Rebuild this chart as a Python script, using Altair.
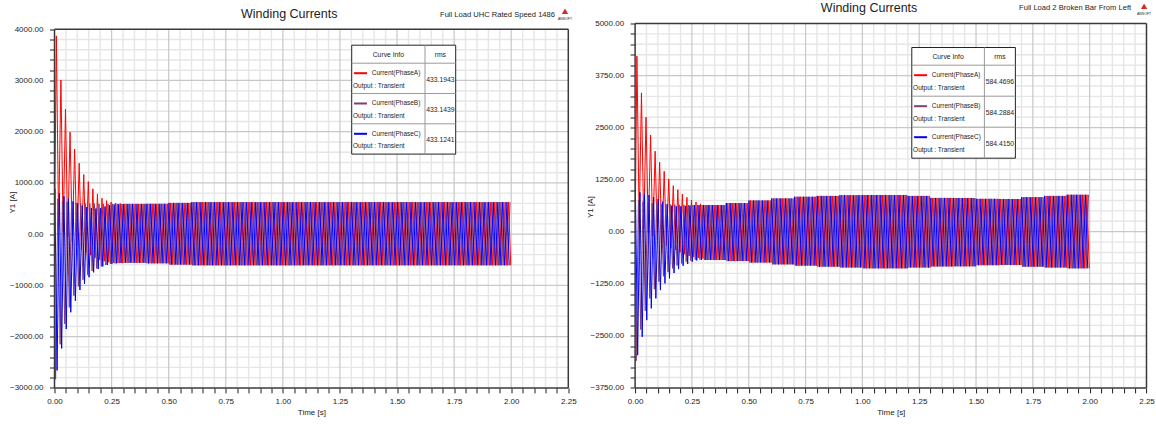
import altair as alt
import numpy as np
import pandas as pd

# ---------------------------------------------------------------- styling
FONT = "Liberation Sans, Arial, sans-serif"
INK = "#1c1c1c"
FRAME = "#3a3a3a"
GRID_MINOR = "#e6e6e6"
GRID_MAJOR = "#c8c8c8"
PLOT_H = 364.4

PHASES = ["Current(PhaseA)", "Current(PhaseB)", "Current(PhaseC)"]
PHASE_COLORS = ["#ff0000", "#7f3f6f", "#0000ff"]
OUTPUT_NAME = "Output : Transient"
CHART_TITLE = "Winding Currents"
X_TITLE = "Time [s]"
Y_TITLE = "Y1 [A]"
LOGO_TEXT = "ANSOFT"

X_MAJOR = [0.0, 0.25, 0.50, 0.75, 1.00, 1.25, 1.50, 1.75, 2.00, 2.25]
X_MINOR_STEP = 0.05

# ---------------------------------------------------------------- waveform timing
T_END = 2.0
CYCLE = 0.02
ENV_START = 0.3
ENV_STEP = 0.1
# (first positive peak, first negative peak) of each phase, seconds
FIRST_EXTREMA = {
    "Current(PhaseA)": (0.0080, 0.0180),
    "Current(PhaseB)": (0.0147, 0.0047),
    "Current(PhaseC)": (0.0013, 0.0113),
}

# ---------------------------------------------------------------- left: rated speed 1486
UHC_SUBTITLE = "Full Load UHC Rated Speed 1486"
UHC_RMS = ["433.1943", "433.1439", "433.1241"]
UHC_Y_MAJOR = [-3000, -2000, -1000, 0, 1000, 2000, 3000, 4000]
UHC_Y_MINOR_STEP = 200
# start-up extremes, one value per 20 ms cycle
UHC_A_PEAKS = [3870, 3010, 2440, 1990, 1660, 1385, 1165, 1025, 885, 785, 700, 655, 625, 605, 598]
UHC_A_TROUGHS = [150, 40, -60, -150, -230, -300, -360, -410, -460, -500, -530, -550, -560, -565, -565]
UHC_B_PEAKS = [690, 650, 630, 620, 610, 600, 600, 595, 595, 590, 590, 590, 590, 588, 588]
UHC_B_TROUGHS = [-2830, -2150, -1750, -1430, -1200, -1020, -890, -790, -720, -670, -630, -600, -580, -570, -565]
UHC_C_PEAKS = [885, 800, 740, 690, 640, 600, 560, 530, 510, 500, 510, 540, 565, 580, 585]
UHC_C_TROUGHS = [-2660, -2230, -1850, -1525, -1300, -1090, -970, -840, -745, -680, -630, -600, -580, -570, -565]
# settled envelope, one value per 0.1 s block from 0.3 s
UHC_ENV_UP = [590, 592, 610, 625, 625, 625, 625, 625, 625, 625, 625, 625, 625, 625, 625, 625, 625]
UHC_ENV_LO = [-560, -570, -595, -608, -608, -608, -608, -608, -608, -608, -608, -608, -608, -608, -608, -608, -608]

# ---------------------------------------------------------------- right: two broken bars
BB_SUBTITLE = "Full Load 2 Broken Bar From Left"
BB_RMS = ["584.4696", "584.2884", "584.4150"]
BB_Y_MAJOR = [-3750, -2500, -1250, 0, 1250, 2500, 3750, 5000]
BB_Y_MINOR_STEP = 250
BB_A_PEAKS = [4216, 3334, 2750, 2324, 1933, 1668, 1452, 1267, 1106, 1010, 906, 827, 762, 715, 670]
BB_A_TROUGHS = [200, 80, -20, -110, -190, -260, -330, -390, -440, -490, -540, -580, -610, -630, -645]
BB_B_PEAKS = [760, 720, 700, 690, 680, 670, 660, 655, 650, 645, 645, 642, 640, 640, 640]
BB_B_TROUGHS = [-3100, -2350, -1900, -1600, -1380, -1200, -1070, -970, -880, -810, -760, -720, -690, -675, -665]
BB_C_PEAKS = [985, 945, 905, 880, 825, 785, 720, 660, 625, 610, 610, 620, 630, 638, 640]
BB_C_TROUGHS = [-2964, -2524, -2123, -1841, -1601, -1401, -1241, -1121, -993, -897, -817, -776, -721, -690, -680]
BB_ENV_UP = [642, 690, 750, 800, 840, 860, 878, 882, 882, 860, 812, 810, 790, 786, 830, 860, 888]
BB_ENV_LO = [-680, -705, -740, -785, -815, -840, -860, -880, -880, -860, -835, -832, -805, -800, -840, -860, -880]


def phase_curve(phase, peaks, troughs, env_up, env_lo):
    """Piecewise path through the positive and negative extremes of one phase."""
    t_pk, t_tr = FIRST_EXTREMA[phase]
    rows = [(0.0, 0.0)]
    for t_first, start_vals, env in ((t_pk, peaks, env_up), (t_tr, troughs, env_lo)):
        k = 0
        while t_first + k * CYCLE <= T_END + 1e-9:
            t = t_first + k * CYCLE
            if k < len(start_vals):
                v = start_vals[k]
            else:
                block = int((t - ENV_START) / ENV_STEP)
                v = env[min(max(block, 0), len(env) - 1)]
            rows.append((round(t, 5), v))
            k += 1
    rows.sort()
    return pd.DataFrame({"t": [r[0] for r in rows], "i": [r[1] for r in rows], "phase": phase})


def label_expr(majors):
    arr = ",".join(repr(float(v)) for v in majors)
    return f"indexof([{arr}], datum.value) >= 0 ? format(datum.value, '.2f') : ''"


def build_panel(curves, y_major, y_minor_step, top_gap, width, rms, subtitle,
                title_xy, sub_xy, logo_xy, legend_geo, y_title_xy):
    y_lo, y_hi = float(y_major[0]), float(y_major[-1])
    dom_hi = y_hi + top_gap / (PLOT_H - top_gap) * (y_hi - y_lo)
    xs = alt.Scale(domain=[0, 2.25], nice=False, zero=False)
    ys = alt.Scale(domain=[y_lo, dom_hi], nice=False, zero=False)
    cs = alt.Scale(domain=PHASES, range=PHASE_COLORS)

    x_ticks = [round(float(v), 2) for v in np.arange(0, 2.2501, X_MINOR_STEP)]
    y_ticks = [float(v) for v in np.arange(y_lo, y_hi + 0.1, y_minor_step)]

    x_axis = alt.Axis(
        values=x_ticks, labelExpr=label_expr(X_MAJOR), grid=False, domain=False,
        tickSize=5, tickColor=INK, tickWidth=1, labelFont=FONT, labelFontSize=8,
        labelColor=INK, labelPadding=5, labelOverlap=False, labelFlush=False,
        title=X_TITLE, titleFont=FONT, titleFontSize=8, titleFontWeight="normal",
        titleColor=INK, titlePadding=3)
    y_axis = alt.Axis(
        values=y_ticks, labelExpr=label_expr(y_major), grid=False, domain=False,
        tickSize=5, tickColor=INK, tickWidth=1, labelFont=FONT, labelFontSize=8,
        labelColor=INK, labelPadding=6.5, labelOverlap=False, labelFlush=False,
        title=Y_TITLE, titleFont=FONT, titleFontSize=8, titleFontWeight="normal",
        titleColor=INK, titleAngle=270, titleAlign="center", titleBaseline="bottom",
        titleX=y_title_xy[0], titleY=y_title_xy[1])

    def seg(df, color, width_px):
        return alt.Chart(df).mark_rule(color=color, strokeWidth=width_px).encode(
            x=alt.X("x1:Q", scale=xs, axis=x_axis), x2="x2:Q",
            y=alt.Y("y1:Q", scale=ys, axis=y_axis), y2="y2:Q")

    def vlines(vals):
        return pd.DataFrame({"x1": vals, "x2": vals, "y1": y_lo, "y2": y_hi})

    def hlines(vals):
        return pd.DataFrame({"x1": 0.0, "x2": 2.25, "y1": vals, "y2": vals})

    xmaj = [v for v in X_MAJOR if 0 < v < 2.25]
    xmin = [v for v in x_ticks if v not in X_MAJOR and 0 < v < 2.25]
    ymaj = [float(v) for v in y_major if y_lo < v < y_hi]
    ymin = [v for v in y_ticks if v not in y_major and y_lo < v < y_hi]

    layers = [
        seg(vlines(xmin), GRID_MINOR, 1.4),
        seg(hlines(ymin), GRID_MINOR, 1.4),
        seg(vlines(xmaj), GRID_MAJOR, 1.2),
        seg(hlines(ymaj), GRID_MAJOR, 1.2),
    ]

    lines = alt.Chart(curves).mark_line(strokeWidth=1, clip=True).encode(
        x=alt.X("t:Q", scale=xs, axis=x_axis),
        y=alt.Y("i:Q", scale=ys, axis=y_axis),
        color=alt.Color("phase:N", scale=cs, legend=None),
    )
    layers.append(lines)

    frame = pd.DataFrame({
        "x1": [0.0, 0.0, 0.0, 2.25], "x2": [2.25, 2.25, 0.0, 2.25],
        "y1": [y_hi, y_lo, y_lo, y_lo], "y2": [y_hi, y_lo, y_hi, y_hi],
    })
    layers.append(seg(frame, FRAME, 1.5))

    # curve-info table
    bx, by, w1, w2, hh, rh = legend_geo
    bottom = by + hh + 3 * rh

    def px_rules(df, color, w):
        return alt.Chart(df).mark_rule(color=color, strokeWidth=w).encode(
            x=alt.X("x1:Q", scale=None, axis=None), x2="x2:Q",
            y=alt.Y("y1:Q", scale=None, axis=None), y2="y2:Q")

    def px_text(df, align, size):
        return alt.Chart(df).mark_text(align=align, baseline="middle", font=FONT,
                                       fontSize=size, color=INK).encode(
            x=alt.X("px:Q", scale=None, axis=None),
            y=alt.Y("py:Q", scale=None, axis=None), text="text:N")

    one = pd.DataFrame({"k": [0]})
    layers.append(alt.Chart(one).mark_rect(fill="white", stroke="#222222", strokeWidth=1).encode(
        x=alt.value(bx), x2=alt.value(bx + w1 + w2), y=alt.value(by), y2=alt.value(bottom)))
    row_tops = [by + hh + r * rh for r in range(3)]
    inner = pd.DataFrame({
        "x1": [bx + w1] + [bx] * 3, "x2": [bx + w1] + [bx + w1 + w2] * 3,
        "y1": [by] + row_tops, "y2": [bottom] + row_tops,
    })
    layers.append(px_rules(inner, "#9a9a9a", 1))
    layers.append(px_text(pd.DataFrame({
        "px": [bx + w1 / 2, bx + w1 + w2 / 2], "py": [by + hh / 2 + 0.5] * 2,
        "text": ["Curve Info", "rms"]}), "center", 6.8))
    swatch = pd.DataFrame({"x1": bx + 2.3, "x2": bx + 15.3,
                           "y1": [r + 10 for r in row_tops], "y2": [r + 10 for r in row_tops],
                           "phase": PHASES})
    layers.append(alt.Chart(swatch).mark_rule(strokeWidth=2).encode(
        x=alt.X("x1:Q", scale=None, axis=None), x2="x2:Q",
        y=alt.Y("y1:Q", scale=None, axis=None), y2="y2:Q",
        color=alt.Color("phase:N", scale=cs, legend=None)))
    layers.append(px_text(pd.DataFrame({
        "px": [bx + 20] * 3 + [bx + 1.3] * 3,
        "py": [r + 10 for r in row_tops] + [r + 22.7 for r in row_tops],
        "text": PHASES + [OUTPUT_NAME] * 3}), "left", 6.5))
    layers.append(px_text(pd.DataFrame({
        "px": [bx + w1 + w2 / 2] * 3, "py": [r + 16.7 for r in row_tops],
        "text": rms}), "center", 6.8))

    # headings and logo
    layers.append(px_text(pd.DataFrame({"px": [title_xy[0]], "py": [title_xy[1]],
                                        "text": [CHART_TITLE]}), "center", 12.5))
    layers.append(px_text(pd.DataFrame({"px": [sub_xy[0]], "py": [sub_xy[1]],
                                        "text": [subtitle]}), "left", 7.6))
    layers.append(alt.Chart(one).mark_point(shape="triangle-up", filled=True, size=40,
                                            color="#d62a2a", opacity=1).encode(
        x=alt.value(logo_xy[0]), y=alt.value(logo_xy[1])))
    layers.append(px_text(pd.DataFrame({"px": [logo_xy[0]], "py": [logo_xy[1] + 8],
                                        "text": [LOGO_TEXT]}), "center", 3.5))

    return alt.layer(*layers).properties(width=width, height=PLOT_H)


def curves_for(a, b, c, env_up, env_lo):
    return pd.concat([
        phase_curve(PHASES[0], a[0], a[1], env_up, env_lo),
        phase_curve(PHASES[1], b[0], b[1], env_up, env_lo),
        phase_curve(PHASES[2], c[0], c[1], env_up, env_lo),
    ], ignore_index=True)


uhc = curves_for((UHC_A_PEAKS, UHC_A_TROUGHS), (UHC_B_PEAKS, UHC_B_TROUGHS),
                 (UHC_C_PEAKS, UHC_C_TROUGHS), UHC_ENV_UP, UHC_ENV_LO)
bb = curves_for((BB_A_PEAKS, BB_A_TROUGHS), (BB_B_PEAKS, BB_B_TROUGHS),
                (BB_C_PEAKS, BB_C_TROUGHS), BB_ENV_UP, BB_ENV_LO)

left = build_panel(uhc, UHC_Y_MAJOR, UHC_Y_MINOR_STEP, 5.7, 513.8, UHC_RMS, UHC_SUBTITLE,
                   (234.7, -9.3), (385.5, -8.8), (510.5, -12.3),
                   (297.2, 21.7, 73.3, 30.7, 18, 30.3), (-38.5, 178.7))
right = build_panel(bb, BB_Y_MAJOR, BB_Y_MINOR_STEP, 0.0, 511.4, BB_RMS, BB_SUBTITLE,
                    (234.0, -15.8), (384.0, -15.3), (509.0, -17.3),
                    (276.7, 24.0, 72.6, 31.0, 17.7, 31.0), (-41.0, 183.2))

chart = alt.hconcat(left, right, spacing=9.6).properties(
    padding={"left": 7.5, "top": 1.5, "right": 0, "bottom": 0},
    background="white",
).configure_view(strokeWidth=0)

chart.save("out.html", embed_options={"renderer": "svg", "actions": False})
